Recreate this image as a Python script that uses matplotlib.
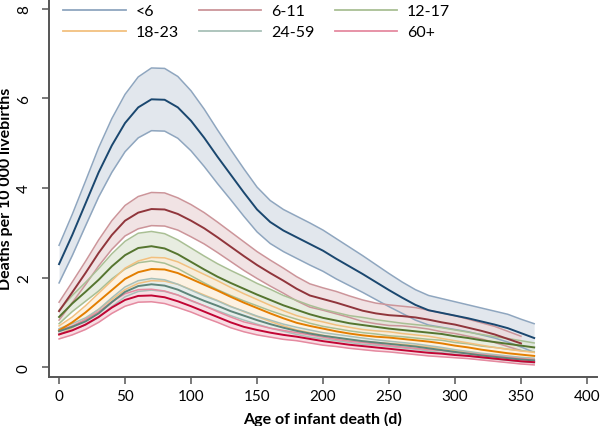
import numpy as np
import matplotlib
matplotlib.use("Agg")
import matplotlib.pyplot as plt
from matplotlib.lines import Line2D

plt.rcParams['font.family'] = ['Lato', 'DejaVu Sans']

# -----------------------------
# Data, deaths per 10 000 livebirths
# -----------------------------
days = np.arange(0, 361, 10)

groups = ["<6", "6-11", "12-17", "18-23", "24-59", "60+"]

mean_lt6 = [2.30, 2.95, 3.65, 4.35, 4.95, 5.45, 5.80, 5.98, 5.97, 5.80, 5.50, 5.12, 4.70,
            4.30, 3.90, 3.52, 3.24, 3.05, 2.90, 2.75, 2.60, 2.42, 2.25, 2.08, 1.90, 1.72,
            1.55, 1.39, 1.27, 1.21, 1.15, 1.09, 1.02, 0.95, 0.87, 0.76, 0.65]
hw_lt6 = [0.42, 0.46, 0.50, 0.55, 0.60, 0.64, 0.68, 0.70, 0.70, 0.69, 0.67, 0.64, 0.60,
          0.56, 0.53, 0.50, 0.48, 0.47, 0.47, 0.47, 0.46, 0.45, 0.43, 0.41, 0.39, 0.37,
          0.35, 0.34, 0.33, 0.32, 0.31, 0.30, 0.30, 0.30, 0.31, 0.31, 0.32]

mean_6_11 = [1.25, 1.67, 2.10, 2.55, 2.95, 3.27, 3.45, 3.53, 3.52, 3.42, 3.27, 3.10, 2.90,
             2.69, 2.48, 2.28, 2.10, 1.93, 1.75, 1.60, 1.52, 1.44, 1.35, 1.26, 1.20, 1.16,
             1.14, 1.11, 1.06, 1.00, 0.95, 0.88, 0.81, 0.73, 0.63, 0.53]
hw_6_11 = [0.20, 0.23, 0.26, 0.29, 0.32, 0.34, 0.36, 0.37, 0.37, 0.36, 0.36, 0.35, 0.34,
           0.33, 0.32, 0.30, 0.29, 0.28, 0.27, 0.26, 0.25, 0.25, 0.24, 0.24, 0.23, 0.23,
           0.22, 0.22, 0.21, 0.21, 0.20, 0.19, 0.18, 0.18, 0.17, 0.16]

mean_12_17 = [1.12, 1.42, 1.68, 1.95, 2.25, 2.50, 2.66, 2.70, 2.65, 2.52, 2.35, 2.18, 2.02,
              1.88, 1.75, 1.62, 1.50, 1.38, 1.28, 1.18, 1.10, 1.04, 0.98, 0.94, 0.90, 0.86,
              0.83, 0.80, 0.77, 0.74, 0.69, 0.65, 0.60, 0.56, 0.52, 0.48, 0.44]
hw_12_17 = [0.15, 0.18, 0.21, 0.25, 0.28, 0.31, 0.33, 0.33, 0.33, 0.32, 0.31, 0.30, 0.29,
            0.28, 0.27, 0.25, 0.24, 0.22, 0.21, 0.20, 0.19, 0.18, 0.17, 0.17, 0.16, 0.16,
            0.15, 0.15, 0.15, 0.14, 0.14, 0.13, 0.13, 0.12, 0.12, 0.11, 0.10]

mean_18_23 = [0.82, 1.00, 1.22, 1.47, 1.72, 1.97, 2.12, 2.19, 2.18, 2.10, 1.97, 1.84, 1.71,
              1.57, 1.44, 1.32, 1.20, 1.09, 0.99, 0.92, 0.86, 0.80, 0.75, 0.71, 0.68, 0.66,
              0.63, 0.60, 0.57, 0.53, 0.48, 0.44, 0.39, 0.35, 0.31, 0.28, 0.25]
hw_18_23 = [0.10, 0.12, 0.15, 0.18, 0.21, 0.24, 0.25, 0.26, 0.26, 0.25, 0.24, 0.23, 0.22,
            0.21, 0.20, 0.19, 0.18, 0.17, 0.16, 0.15, 0.15, 0.14, 0.14, 0.13, 0.13, 0.13,
            0.12, 0.12, 0.12, 0.11, 0.11, 0.10, 0.10, 0.09, 0.09, 0.08, 0.08]

mean_24_59 = [0.80, 0.90, 1.02, 1.20, 1.45, 1.68, 1.81, 1.85, 1.82, 1.73, 1.60, 1.48, 1.37,
              1.25, 1.15, 1.05, 0.96, 0.88, 0.81, 0.75, 0.70, 0.66, 0.62, 0.58, 0.55, 0.52,
              0.49, 0.46, 0.42, 0.38, 0.34, 0.30, 0.26, 0.23, 0.20, 0.17, 0.15]
hw_24_59 = [0.06, 0.07, 0.08, 0.09, 0.10, 0.11, 0.12, 0.13, 0.13, 0.12, 0.12, 0.11, 0.11,
            0.10, 0.10, 0.09, 0.09, 0.08, 0.08, 0.08, 0.07, 0.07, 0.07, 0.07, 0.06, 0.06,
            0.06, 0.06, 0.06, 0.06, 0.05, 0.05, 0.05, 0.05, 0.05, 0.05, 0.05]

mean_60p = [0.73, 0.82, 0.95, 1.12, 1.33, 1.50, 1.59, 1.60, 1.56, 1.47, 1.36, 1.24, 1.12,
            1.00, 0.90, 0.83, 0.77, 0.72, 0.68, 0.63, 0.58, 0.54, 0.50, 0.47, 0.44, 0.41,
            0.38, 0.35, 0.32, 0.30, 0.27, 0.25, 0.22, 0.19, 0.16, 0.13, 0.11]
hw_60p = [0.10, 0.10, 0.11, 0.12, 0.13, 0.14, 0.14, 0.14, 0.14, 0.14, 0.13, 0.13, 0.12,
          0.12, 0.11, 0.11, 0.10, 0.10, 0.09, 0.09, 0.09, 0.08, 0.08, 0.08, 0.08, 0.07,
          0.07, 0.07, 0.07, 0.07, 0.06, 0.06, 0.06, 0.06, 0.06, 0.06, 0.06]

means = [mean_lt6, mean_6_11, mean_12_17, mean_18_23, mean_24_59, mean_60p]
halfw = [hw_lt6, hw_6_11, hw_12_17, hw_18_23, hw_24_59, hw_60p]

line_colors = ["#1a476f", "#90353b", "#55752f", "#e37e00", "#5f8579", "#c10534"]
edge_colors = ["#8fa6bf", "#cc959a", "#a9bf94", "#f2c07f", "#a8c0b8", "#e58aa0"]
fill_colors = ["#d9e0e8", "#eddadb", "#e1e8d8", "#fdeed9", "#dfe9e6", "#f6d4dc"]

# -----------------------------
# Plot
# -----------------------------
fig = plt.figure(figsize=(6, 4.27), dpi=100)
ax = fig.add_axes([0.0817, 0.1148, 0.9133, 0.8852])

for i in range(len(groups)):
    m = np.array(means[i])
    h = np.array(halfw[i])
    x = days[:len(m)]
    lo, hi = m - h, m + h
    ax.fill_between(x, lo, hi, color=fill_colors[i], alpha=0.75, lw=0, zorder=1 + i)
    ax.plot(x, lo, color=edge_colors[i], lw=1.1, zorder=10 + i)
    ax.plot(x, hi, color=edge_colors[i], lw=1.1, zorder=10 + i)
    ax.plot(x, m, color=line_colors[i], lw=1.4, zorder=20 + i)

ax.set_xlim(-7.6, 407.6)
ax.set_ylim(-0.22, 8.22)
ax.set_xticks(np.arange(0, 401, 50))
ax.set_yticks(np.arange(0, 9, 2))

for s in ["top", "right"]:
    ax.spines[s].set_visible(False)
for s in ["left", "bottom"]:
    ax.spines[s].set_color("#555555")
    ax.spines[s].set_linewidth(1.4)

ax.tick_params(axis="both", direction="out", length=5, width=1.1, color="#555555",
               labelsize=11)
ax.tick_params(axis="y", pad=8)
for lab in ax.get_yticklabels():
    lab.set_rotation(90)
    lab.set_va("center")

ax.set_xlabel("Age of infant death (d)", fontsize=11.5, fontweight="bold", labelpad=6)
ax.set_ylabel("Deaths per 10 000 livebirths", fontsize=11.5, fontweight="bold", labelpad=3)

# legend: row-wise order with ncol=3
order = [0, 3, 1, 4, 2, 5]
handles = [Line2D([], [], color=edge_colors[i], lw=1.3) for i in order]
labels = [groups[i] for i in order]
ax.legend(handles, labels, ncol=3, loc="upper left", bbox_to_anchor=(0.0, 1.025),
          frameon=False, fontsize=11.5, handlelength=3.9, columnspacing=1.3,
          handletextpad=0.6, labelspacing=0.45)

plt.savefig("out.png", dpi=100)
